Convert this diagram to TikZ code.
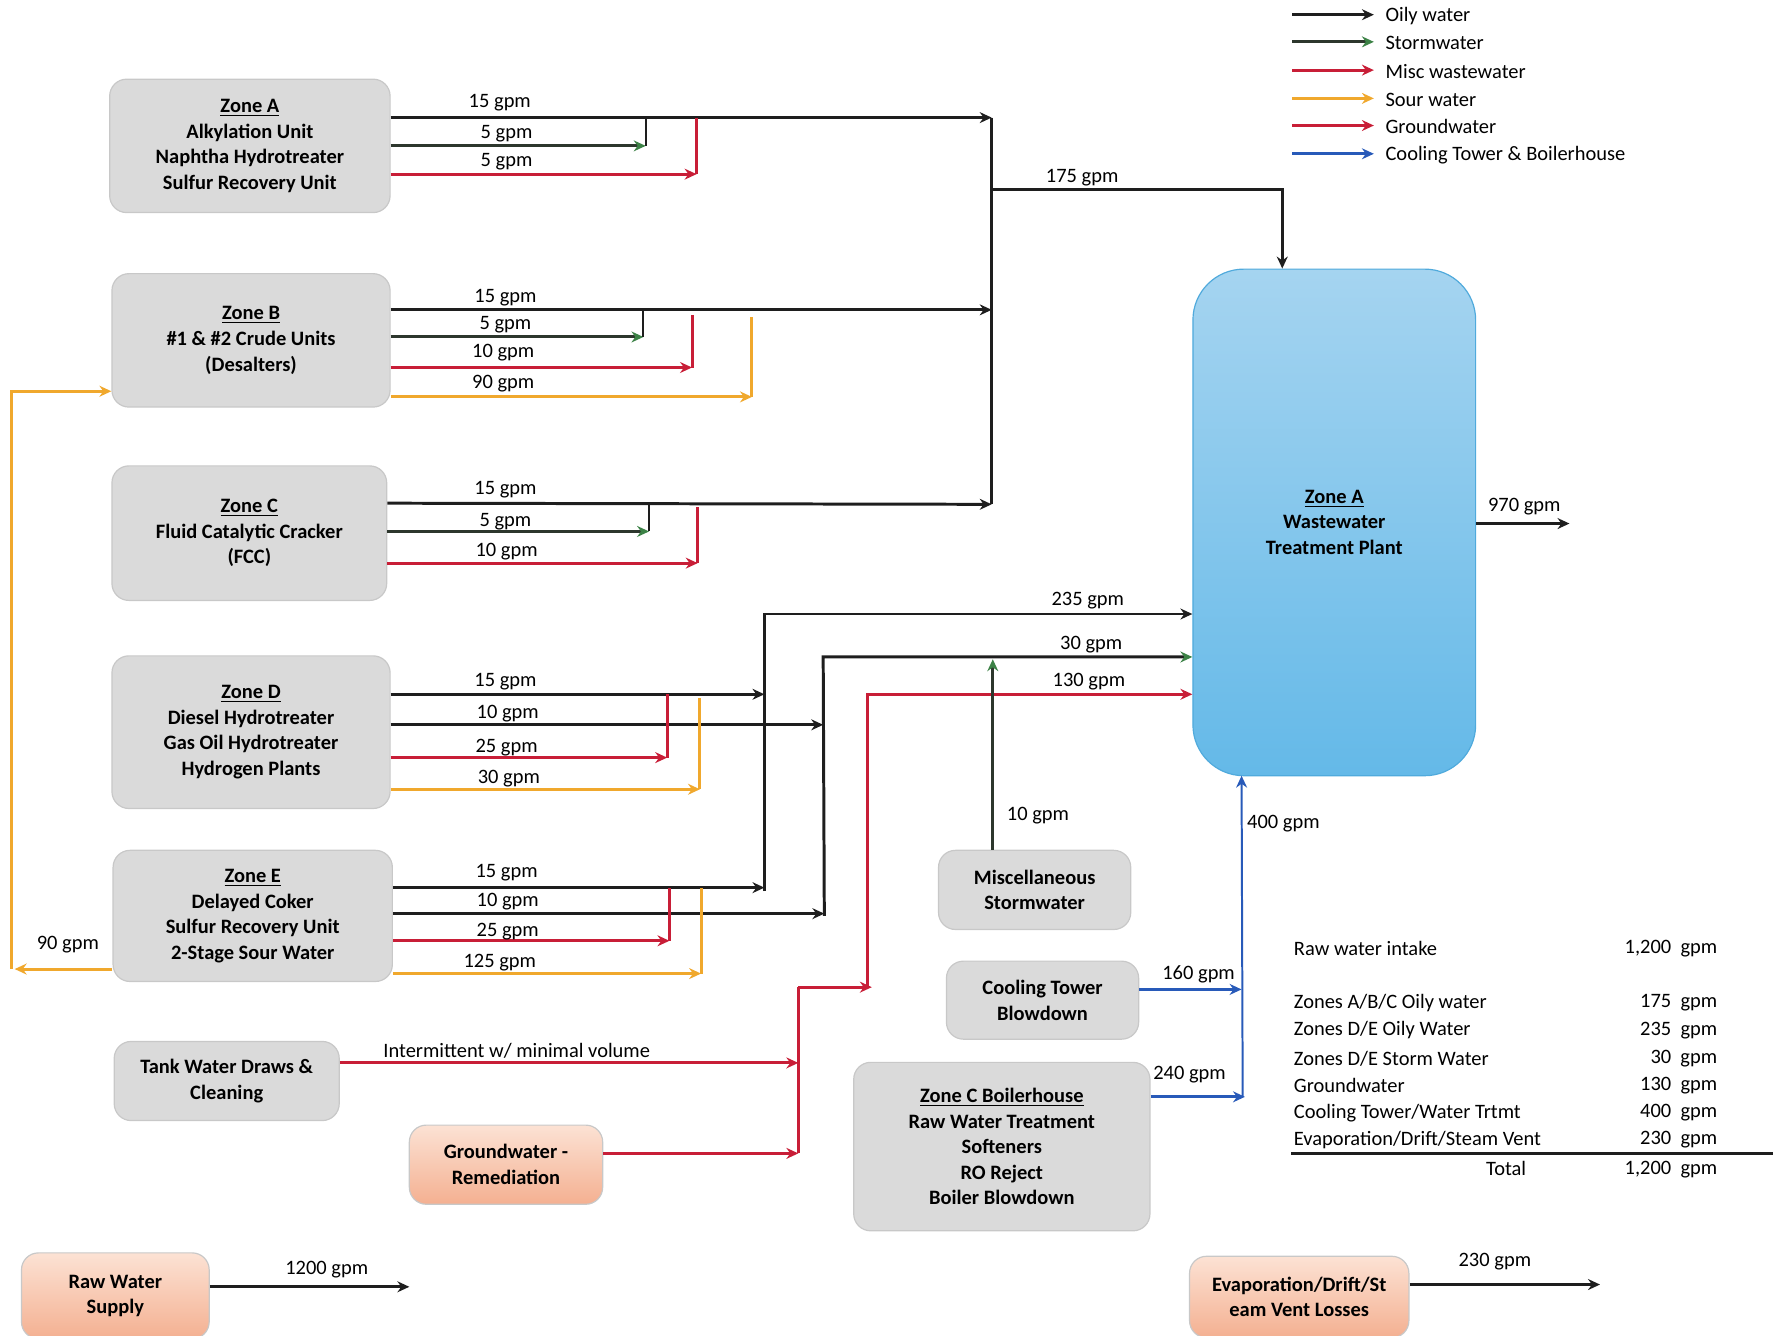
\documentclass[tikz,border=0pt]{standalone}
\usepackage{fontspec}
\setmainfont{Carlito}
\usetikzlibrary{arrows.meta}
\definecolor{oilyc}{RGB}{30,30,30}
\definecolor{stormc}{RGB}{45,55,45}
\definecolor{stormtip}{RGB}{60,130,70}
\definecolor{redc}{RGB}{200,30,55}
\definecolor{sourc}{RGB}{240,168,45}
\definecolor{bluec}{RGB}{40,90,185}
\definecolor{boxgray}{RGB}{218,218,218}
\definecolor{boxedge}{RGB}{200,200,200}
\definecolor{wtop}{RGB}{165,212,240}
\definecolor{wbot}{RGB}{100,185,232}
\definecolor{wedge}{RGB}{80,170,220}
\definecolor{otop}{RGB}{252,226,212}
\definecolor{obot}{RGB}{244,176,145}
\tikzset{
  every node/.style={font=\fontsize{10.3}{12.9}\selectfont},
  gbox/.style={rounded corners=0.3cm, fill=boxgray, draw=boxedge, line width=0.6pt, align=center, font=\fontsize{10.3}{12.9}\selectfont\bfseries, inner sep=0pt},
  obox/.style={rounded corners=0.3cm, top color=otop, bottom color=obot, draw=boxedge, line width=0.6pt, align=center, font=\fontsize{10.3}{12.9}\selectfont\bfseries, inner sep=0pt},
  sz/.style 2 args={minimum width=#1*0.02cm, minimum height=#2*0.02cm},
  tip/.style={-{Stealth[length=6pt,width=5.5pt,#1]}},
  oily/.style={draw=oilyc, line width=1.5pt},
  storm/.style={draw=stormc, line width=1.5pt},
  misc/.style={draw=redc, line width=1.5pt},
  sour/.style={draw=sourc, line width=1.5pt},
  cool/.style={draw=bluec, line width=1.5pt},
  lbl/.style={inner sep=0pt},
}
\begin{document}
\begin{tikzpicture}[x=0.02cm, y=-0.02cm]
\useasboundingbox (0,0) rectangle (1568,1181);

% ---------- boxes ----------
\node[gbox, sz={248}{118}] (zA) at (221,129) {\underline{Zone A}\\Alkylation Unit\\Naphtha Hydrotreater\\Sulfur Recovery Unit};
\node[gbox, sz={246}{118}] (zB) at (222,301) {\underline{Zone B}\\\#1 \& \#2 Crude Units\\(Desalters)};
\node[gbox, sz={243}{119}] (zC) at (220.5,471.5) {\underline{Zone C}\\Fluid Catalytic Cracker\\(FCC)};
\node[gbox, sz={246}{135}] (zD) at (222,647.5) {\underline{Zone D}\\Diesel Hydrotreater\\Gas Oil Hydrotreater\\Hydrogen Plants};
\node[gbox, sz={247}{116}] (zE) at (223.5,810) {\underline{Zone E}\\Delayed Coker\\Sulfur Recovery Unit\\2-Stage Sour Water};
\node[gbox, sz={199}{70}] (tank) at (200.5,956) {Tank Water Draws \&\\Cleaning};
\node[obox, sz={171}{70}] (gwr) at (447.5,1030) {Groundwater -\\Remediation};
\node[obox, sz={166}{76}] (raw) at (102,1146) {Raw Water\\Supply};
\node[obox, sz={194}{72}] (evap) at (1149,1147) {Evaporation/Drift/St\\eam Vent Losses};
\node[gbox, sz={170}{70}] (misc) at (915,787) {Miscellaneous\\Stormwater};
\node[gbox, sz={170}{69}] (ctb) at (922,884.5) {Cooling Tower\\Blowdown};
\node[gbox, sz={262}{149}] (boil) at (886,1014) {\underline{Zone C Boilerhouse}\\Raw Water Treatment\\Softeners\\RO Reject\\Boiler Blowdown};
\node[rounded corners=0.9cm, top color=wtop, bottom color=wbot, draw=wedge, line width=0.6pt, sz={250}{448}, align=center, inner sep=0pt, font=\fontsize{10.3}{12.9}\selectfont\bfseries] (wwtp) at (1180,462) {\underline{Zone A}\\Wastewater\\Treatment Plant};

% ---------- legend ----------
\foreach \i/\y/\t in {1/13/Oily water,2/37/Stormwater,3/62/Misc wastewater,4/87/Sour water,5/111/Groundwater,6/136/Cooling Tower \& Boilerhouse}{
  \coordinate (lg\i s) at (1143,\y);
  \coordinate (lg\i e) at (1215,\y);
  \node[lbl, anchor=west] (lgt\i) at (1225,\y+1) {\t};
}
\draw[oily, tip] (lg1s) -- (lg1e);
\draw[storm, tip=stormtip] (lg2s) -- (lg2e);
\draw[misc, tip] (lg3s) -- (lg3e);
\draw[sour, tip] (lg4s) -- (lg4e);
\draw[misc, tip] (lg5s) -- (lg5e);
\draw[cool, tip] (lg6s) -- (lg6e);

% ---------- collector coordinates ----------
\coordinate (c1t) at (877,104);
\coordinate (c1m) at (877,168);
\coordinate (c1b) at (877,446);
\coordinate (c1r) at (1134,168);
\coordinate (c2t) at (676,543);
\coordinate (c2b) at (676,788);
\coordinate (c3t) at (728,581);
\coordinate (c3b) at (729,810);
\coordinate (c4t) at (767,614);
\coordinate (c4b) at (767,873);
\coordinate (g1t) at (706,873);
\coordinate (g1m) at (706,940);
\coordinate (g1b) at (706,1020);
\coordinate (b1t) at (1098,686);
\coordinate (b1m) at (1098,875);
\coordinate (b1b) at (1099,970);

% ---------- Zone A ----------
\coordinate (aS) at (571,129); \coordinate (aSt) at (571,104);
\coordinate (aR) at (616,154); \coordinate (aRt) at (616,104);
\draw[oily, tip] (zA.east |- 0,104) -- (c1t);
\draw[storm, tip=stormtip] (zA.east |- 0,129) -- (aS);
\draw[oily, line width=1pt] (aS) -- (aSt);
\draw[misc, tip] (zA.east |- 0,154) -- (aR);
\draw[misc] (aR) -- (aRt);
\node[lbl] (lA1) at (442,91) {15 gpm};
\node[lbl] (lA2) at (448,118) {5 gpm};
\node[lbl] (lA3) at (448,143) {5 gpm};

% ---------- Zone B ----------
\coordinate (bT) at (877,274);
\coordinate (bS) at (569,298); \coordinate (bSt) at (569,274);
\coordinate (bR) at (612,325); \coordinate (bRt) at (612,279);
\coordinate (bO) at (665,351); \coordinate (bOt) at (665,280);
\draw[oily, tip] (zB.east |- 0,274) -- (bT);
\draw[storm, tip=stormtip] (zB.east |- 0,298) -- (bS);
\draw[oily, line width=1pt] (bS) -- (bSt);
\draw[misc, tip] (zB.east |- 0,325) -- (bR);
\draw[misc] (bR) -- (bRt);
\draw[sour, tip] (zB.east |- 0,351) -- (bO);
\draw[sour] (bO) -- (bOt);
\node[lbl] (lB1) at (447,263) {15 gpm};
\node[lbl] (lB2) at (447,287) {5 gpm};
\node[lbl] (lB3) at (445,312) {10 gpm};
\node[lbl] (lB4) at (445,339) {90 gpm};

% ---------- Zone C ----------
\coordinate (cS) at (574,470); \coordinate (cSt) at (574,445);
\coordinate (cR) at (617,498); \coordinate (cRt) at (617,448);
\draw[oily, tip] (zC.east |- 0,445) -- (c1b);
\draw[storm, tip=stormtip] (zC.east |- 0,470) -- (cS);
\draw[oily, line width=1pt] (cS) -- (cSt);
\draw[misc, tip] (zC.east |- 0,498) -- (cR);
\draw[misc] (cR) -- (cRt);
\node[lbl] (lC1) at (447,433) {15 gpm};
\node[lbl] (lC2) at (447,461) {5 gpm};
\node[lbl] (lC3) at (448,488) {10 gpm};

% collector A/B/C
\draw[oily] (c1t) -- (c1b);
\draw[oily, tip] (c1m) -- (c1r) -- (wwtp.north -| c1r);
\node[lbl] (l175) at (957,157) {175 gpm};

% ---------- Zone D ----------
\coordinate (dR) at (590,670); \coordinate (dRt) at (590,614);
\coordinate (dO) at (619,698); \coordinate (dOt) at (619,617);
\draw[oily, tip] (zD.east |- 0,614) -- (c2t |- 0,614);
\draw[oily, tip] (zD.east |- 0,641) -- (c3t |- 0,641);
\draw[misc, tip] (zD.east |- 0,670) -- (dR);
\draw[misc] (dR) -- (dRt);
\draw[sour, tip] (zD.east |- 0,698) -- (dO);
\draw[sour] (dO) -- (dOt);
\node[lbl] (lD1) at (447,603) {15 gpm};
\node[lbl] (lD2) at (449,631) {10 gpm};
\node[lbl] (lD3) at (448,661) {25 gpm};
\node[lbl] (lD4) at (450,689) {30 gpm};

% ---------- Zone E ----------
\coordinate (eR) at (592,832); \coordinate (eRt) at (592,785);
\coordinate (eO) at (620,861); \coordinate (eOt) at (620,785);
\draw[oily, tip] (zE.east |- 0,785) -- (c2b |- 0,785);
\draw[oily, tip] (zE.east |- 0,808) -- (c3b |- 0,808);
\draw[misc, tip] (zE.east |- 0,832) -- (eR);
\draw[misc] (eR) -- (eRt);
\draw[sour, tip] (zE.east |- 0,861) -- (eO);
\draw[sour] (eO) -- (eOt);
\node[lbl] (lE1) at (448,772) {15 gpm};
\node[lbl] (lE2) at (449,797) {10 gpm};
\node[lbl] (lE3) at (449,824) {25 gpm};
\node[lbl] (lE4) at (442,851) {125 gpm};

% sour water recycle E -> B
\coordinate (sL) at (13,857);
\coordinate (sLb) at (10,857);
\coordinate (sLt) at (10,346);
\draw[sour, tip] (zE.west |- 0,857) -- (sL);
\draw[sour, tip] (sLb) -- (sLt) -- (zB.west |- sLt);
\node[lbl] (l90) at (60,835) {90 gpm};

% collectors D/E
\draw[oily, tip] (c2b) -- (c2t) -- (wwtp.west |- c2t);
\node[lbl] (l235) at (962,531) {235 gpm};
\draw[oily, tip=stormtip] (c3b) -- (c3t) -- (wwtp.west |- c3t);
\node[lbl] (l30) at (965,570) {30 gpm};
\draw[misc, tip] (c4b) -- (c4t) -- (wwtp.west |- c4t);
\node[lbl] (l130) at (963,603) {130 gpm};

% misc stormwater
\draw[storm, tip=stormtip] (misc.north -| 878,0) -- (878,583);
\node[lbl] (l10) at (918,721) {10 gpm};

% tank water draws & groundwater remediation
\draw[misc, tip] (tank.east |- g1m) -- (g1m);
\node[lbl] (lint) at (457,929) {Intermittent w/ minimal volume};
\draw[misc, tip] (gwr.east |- g1b) -- (g1b);
\draw[misc] (g1b) -- (g1t);
\draw[misc, tip] (g1t) -- (771,873);

% cooling tower / boilerhouse
\draw[cool, tip] (ctb.east |- b1m) -- (b1m);
\node[lbl] (l160) at (1060,862) {160 gpm};
\draw[cool, tip] (boil.east |- b1b) -- (1101,970);
\node[lbl] (l240) at (1052,950) {240 gpm};
\draw[cool, line width=1pt, tip] (b1b) -- (b1t);
\node[lbl] (l400) at (1135,728) {400 gpm};

% outflow
\draw[oily, tip] (wwtp.east |- 0,463) -- (1388,463);
\node[lbl] (l970) at (1348,448) {970 gpm};
\draw[oily, tip] (raw.east |- 0,1138) -- (362,1138);
\node[lbl] (l1200) at (289,1123) {1200 gpm};
\draw[oily, tip] (evap.east |- 0,1136) -- (1415,1136);
\node[lbl] (l230) at (1322,1116) {230 gpm};

% ---------- table ----------
\node[lbl, anchor=west] (tl1) at (1144,839) {Raw water intake};
\node[lbl, anchor=west] (tl2) at (1144,887) {Zones A/B/C Oily water};
\node[lbl, anchor=west] (tl3) at (1144,911) {Zones D/E Oily Water};
\node[lbl, anchor=west] (tl4) at (1144,936) {Zones D/E Storm Water};
\node[lbl, anchor=west] (tl5) at (1144,960) {Groundwater};
\node[lbl, anchor=west] (tl6) at (1144,984) {Cooling Tower/Water Trtmt};
\node[lbl, anchor=west] (tl7) at (1144,1008) {Evaporation/Drift/Steam Vent};
\node[lbl, anchor=east] (tv1) at (1519,839) {1,200\hspace{0.45em}gpm};
\node[lbl, anchor=east] (tv2) at (1519,887) {175\hspace{0.45em}gpm};
\node[lbl, anchor=east] (tv3) at (1519,911) {235\hspace{0.45em}gpm};
\node[lbl, anchor=east] (tv4) at (1519,936) {30\hspace{0.45em}gpm};
\node[lbl, anchor=east] (tv5) at (1519,960) {130\hspace{0.45em}gpm};
\node[lbl, anchor=east] (tv6) at (1519,984) {400\hspace{0.45em}gpm};
\node[lbl, anchor=east] (tv7) at (1519,1008) {230\hspace{0.45em}gpm};
\coordinate (tlL) at (1142,1020);
\coordinate (tlR) at (1568,1020);
\draw[oilyc, line width=1.6pt] (tlL) -- (tlR);
\node[lbl] (ttot) at (1332,1033) {Total};
\node[lbl, anchor=east] (ttotv) at (1519,1034) {1,200\hspace{0.45em}gpm};
\end{tikzpicture}
\end{document}
